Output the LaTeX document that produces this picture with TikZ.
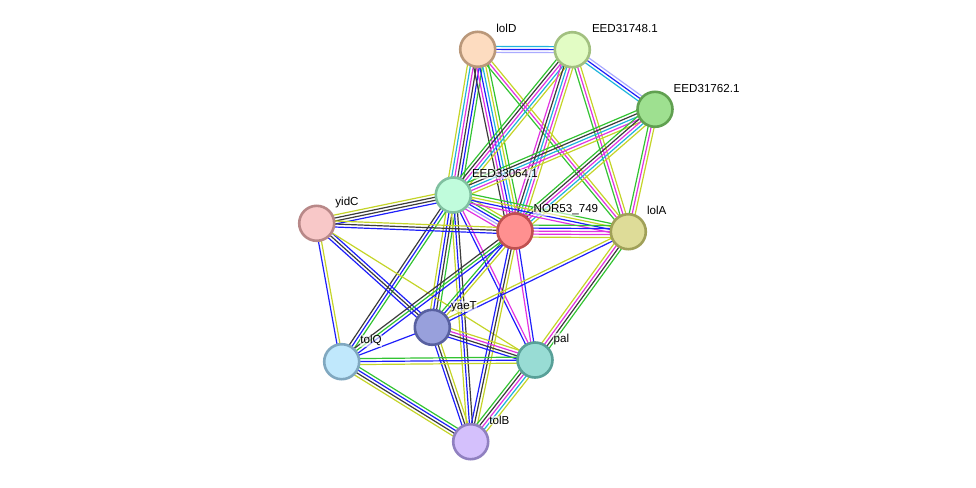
\documentclass[tikz,border=0pt]{standalone}
\usepackage{fontspec}
\setmainfont{Liberation Sans}
\usetikzlibrary{calc,backgrounds}

% evidence colours
\definecolor{tm}{RGB}{196,212,40}
\definecolor{coex}{RGB}{60,60,60}
\definecolor{hom}{RGB}{170,170,255}
\definecolor{db}{RGB}{30,180,220}
\definecolor{expt}{RGB}{225,50,225}
\definecolor{cooc}{RGB}{30,30,250}
\definecolor{nbh}{RGB}{50,195,50}

% one line per evidence channel, side by side
\newcommand{\edgebundle}[3]{%
  \def\nlines{0}%
  \foreach \c in {#3}{\pgfmathparse{int(\nlines+1)}\xdef\nlines{\pgfmathresult}}%
  \foreach \c [count=\i] in {#3}{%
    \pgfmathsetmacro{\off}{(\i-(\nlines+1)/2)*3.0}%
    \draw[line width=1.2pt, draw=\c] ($(#1)!\off pt!90:(#2)$) -- ($(#2)!\off pt!-90:(#1)$);
  }}

\tikzset{
  prot/.style={circle, minimum size=35pt, inner sep=0pt, line width=2.6pt},
  lbl/.style={anchor=west, inner sep=0.5pt, fill=white, fill opacity=0.6, text opacity=1,
    font=\fontsize{11.6}{13}\selectfont}
}

\begin{document}
\begin{tikzpicture}[x=1pt, y=-1pt]
\useasboundingbox (0,0) rectangle (976,487);

% proteins
\node[prot, fill={rgb,255:red,253;green,220;blue,192}, draw={rgb,255:red,186;green,152;blue,122}] (lolD) at (477.7,49.3) {};
\node[prot, fill={rgb,255:red,226;green,252;blue,196}, draw={rgb,255:red,162;green,192;blue,128}] (e748) at (572.3,49.7) {};
\node[prot, fill={rgb,255:red,158;green,224;blue,144}, draw={rgb,255:red,96;green,160;blue,80}] (e762) at (655,109.3) {};
\node[prot, fill={rgb,255:red,192;green,252;blue,220}, draw={rgb,255:red,128;green,192;blue,160}] (e064) at (453.3,195) {};
\node[prot, fill={rgb,255:red,248;green,200;blue,200}, draw={rgb,255:red,184;green,136;blue,136}] (yidC) at (316.7,223.3) {};
\node[prot, fill={rgb,255:red,255;green,144;blue,144}, draw={rgb,255:red,192;green,80;blue,80}] (nor) at (515,231) {};
\node[prot, fill={rgb,255:red,222;green,220;blue,152}, draw={rgb,255:red,160;green,160;blue,88}] (lolA) at (628.3,231.7) {};
\node[prot, fill={rgb,255:red,152;green,160;blue,220}, draw={rgb,255:red,88;green,96;blue,160}] (yaeT) at (432.3,327.3) {};
\node[prot, fill={rgb,255:red,192;green,232;blue,252}, draw={rgb,255:red,128;green,168;blue,192}] (tolQ) at (341.7,361.7) {};
\node[prot, fill={rgb,255:red,152;green,220;blue,212}, draw={rgb,255:red,88;green,160;blue,152}] (pal) at (535,360) {};
\node[prot, fill={rgb,255:red,212;green,192;blue,252}, draw={rgb,255:red,144;green,128;blue,192}] (tolB) at (470.7,441.7) {};

% names
\node[lbl] (tlolD) at ($(lolD)+(18,-21)$) {lolD};
\node[lbl] (te748) at ($(e748)+(19,-21)$) {EED31748.1};
\node[lbl] (te762) at ($(e762)+(18,-21)$) {EED31762.1};
\node[lbl] (te064) at ($(e064)+(18,-21)$) {EED33064.1};
\node[lbl] (tyidC) at ($(yidC)+(18,-21)$) {yidC};
\node[lbl] (tnor) at ($(nor)+(18,-21)$) {NOR53\_749};
\node[lbl] (tlolA) at ($(lolA)+(18,-21)$) {lolA};
\node[lbl] (tyaeT) at ($(yaeT)+(18,-21)$) {yaeT};
\node[lbl] (ttolQ) at ($(tolQ)+(18,-21)$) {tolQ};
\node[lbl] (tpal) at ($(pal)+(18,-21)$) {pal};
\node[lbl] (ttolB) at ($(tolB)+(18,-21)$) {tolB};

% interactions
\begin{scope}[on background layer]
\edgebundle{lolD}{e748}{hom,cooc,db}
\edgebundle{e748}{e762}{db,cooc,hom}
\edgebundle{lolD}{e064}{tm,db,expt,coex,cooc,nbh}
\edgebundle{lolD}{nor}{coex,expt,cooc,db,tm,nbh}
\edgebundle{lolD}{lolA}{nbh,expt,tm}
\edgebundle{e748}{e064}{nbh,coex,expt,db,tm}
\edgebundle{e748}{nor}{expt,coex,db,expt,tm}
\edgebundle{e748}{lolA}{nbh,expt,tm}
\edgebundle{e762}{e064}{nbh,coex,db,expt,tm}
\edgebundle{e762}{nor}{nbh,coex,expt,db,tm}
\edgebundle{e762}{lolA}{nbh,expt,tm}
\edgebundle{e064}{nor}{expt,hom,cooc,nbh,tm}
\edgebundle{e064}{lolA}{expt,cooc,tm,nbh}
\edgebundle{e064}{yidC}{tm,coex,coex,cooc}
\edgebundle{e064}{yaeT}{tm,cooc,coex,nbh}
\edgebundle{e064}{tolQ}{coex,cooc,nbh}
\edgebundle{e064}{pal}{cooc,expt}
\edgebundle{e064}{tolB}{tm,cooc,coex}
\edgebundle{yidC}{nor}{cooc,coex,tm}
\edgebundle{yidC}{yaeT}{cooc,coex,cooc}
\edgebundle{yidC}{tolQ}{cooc,tm}
\edgebundle{yidC}{pal}{tm}
\edgebundle{nor}{lolA}{tm,expt,expt,cooc,nbh}
\edgebundle{nor}{yaeT}{nbh,cooc,tm}
\edgebundle{nor}{tolQ}{coex,nbh,cooc}
\edgebundle{nor}{pal}{expt,cooc}
\edgebundle{nor}{tolB}{cooc,coex,tm}
\edgebundle{lolA}{pal}{tm,expt,coex,nbh}
\edgebundle{lolA}{yaeT}{tm,cooc}
\edgebundle{yaeT}{tolQ}{cooc}
\edgebundle{yaeT}{pal}{cooc,coex,expt,tm}
\edgebundle{yaeT}{tolB}{cooc,coex,tm}
\edgebundle{tolQ}{pal}{tm,cooc,nbh}
\edgebundle{tolQ}{tolB}{tm,coex,cooc,nbh}
\edgebundle{pal}{tolB}{nbh,coex,expt,db,tm}
\end{scope}
\end{tikzpicture}
\end{document}
